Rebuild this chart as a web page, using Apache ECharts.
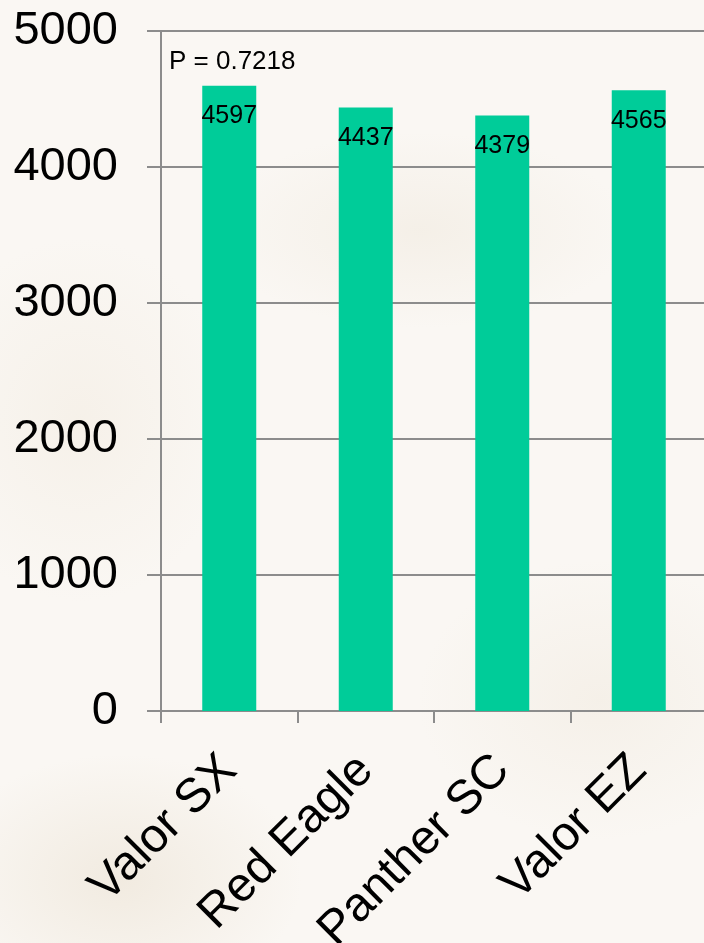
<!DOCTYPE html>
<html>
<head>
<meta charset="utf-8">
<script src="https://cdn.jsdelivr.net/npm/echarts@6/dist/echarts.min.js"></script>
<style>
html,body{margin:0;padding:0;}
body{width:704px;height:943px;overflow:hidden;
background:
 radial-gradient(ellipse 260px 180px at 120px 880px, rgba(228,216,196,0.4), rgba(228,216,196,0) 70%),
 radial-gradient(ellipse 300px 140px at 420px 230px, rgba(232,222,205,0.3), rgba(232,222,205,0) 70%),
 radial-gradient(ellipse 220px 260px at 80px 420px, rgba(236,226,210,0.3), rgba(236,226,210,0) 70%),
 radial-gradient(ellipse 260px 200px at 600px 700px, rgba(234,224,208,0.3), rgba(234,224,208,0) 70%),
 #faf7f3;}
#chart{width:704px;height:943px;}
</style>
</head>
<body>
<div id="chart"></div>
<script>
const categories = ['Valor SX', 'Red Eagle', 'Panther SC', 'Valor EZ'];
const values = [4597, 4437, 4379, 4565];
const yTicks = [0, 1000, 2000, 3000, 4000, 5000];
const annotation = 'P = 0.7218';

const chart = echarts.init(document.getElementById('chart'), null, {renderer: 'canvas'});
const font = '"Liberation Sans", Arial, sans-serif';
chart.setOption({
  backgroundColor: 'transparent',
  animation: false,
  textStyle: {fontFamily: font},
  title: {
    text: annotation, left: 169, top: 49, padding: 0,
    textStyle: {fontFamily: font, fontSize: 26, fontWeight: 'normal', color: '#000'}
  },
  grid: {left: 161, top: 31, width: 546, height: 680, containLabel: false, outerBoundsMode: 'none'},
  xAxis: {
    type: 'category', data: categories,
    axisLine: {show: true, lineStyle: {color: '#8c8c8c', width: 2}},
    axisTick: {show: true, length: 12, alignWithLabel: false, lineStyle: {color: '#8c8c8c', width: 2}},
    axisLabel: {rotate: 45, fontSize: 48, color: '#000', fontFamily: font, margin: 52, interval: 0}
  },
  yAxis: {
    type: 'value', min: yTicks[0], max: yTicks[yTicks.length - 1], interval: 1000,
    axisLine: {show: true, lineStyle: {color: '#8c8c8c', width: 2}},
    axisTick: {show: true, length: 14, lineStyle: {color: '#8c8c8c', width: 2}},
    splitLine: {show: true, lineStyle: {color: '#8c8c8c', width: 2}},
    axisLabel: {fontSize: 47, color: '#000', fontFamily: font, margin: 43, formatter: v => String(v)}
  },
  series: [{
    type: 'bar', data: values, barWidth: 54,
    itemStyle: {color: '#00cc99'},
    label: {show: true, position: 'insideTop', distance: 18, fontSize: 25, color: '#000', fontFamily: font}
  }]
});
</script>
</body>
</html>
